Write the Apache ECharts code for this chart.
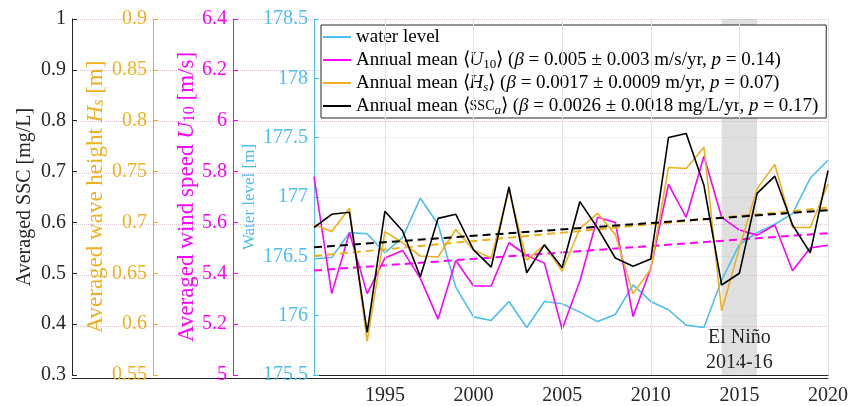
<!DOCTYPE html>
<html><head><meta charset="utf-8">
<script src="https://cdn.jsdelivr.net/npm/echarts@6/dist/echarts.min.js"></script>
<style>html,body{margin:0;padding:0;background:#fff}#c{width:857px;height:406px}</style>
</head><body><div id="c"></div>
<script>
const years = [1991,1992,1993,1994,1995,1996,1997,1998,1999,2000,2001,2002,2003,2004,2005,2006,2007,2008,2009,2010,2011,2012,2013,2014,2015,2016,2017,2018,2019,2020];
const waterLevel = [176.48,176.49,176.70,176.69,176.53,176.66,176.99,176.77,176.24,175.99,175.96,176.12,175.90,176.12,176.10,176.03,175.95,176.01,176.26,176.12,176.05,175.92,175.90,176.30,176.60,176.70,176.77,176.86,177.16,177.31];
const u10 = [5.78,5.32,5.56,5.32,5.46,5.49,5.38,5.22,5.45,5.35,5.35,5.52,5.47,5.44,5.18,5.37,5.62,5.60,5.23,5.42,5.75,5.62,5.86,5.62,5.57,5.55,5.59,5.41,5.50,5.51];
const hs = [0.698,0.691,0.714,0.583,0.691,0.680,0.667,0.666,0.693,0.673,0.665,0.732,0.663,0.678,0.652,0.694,0.709,0.688,0.630,0.654,0.754,0.753,0.774,0.613,0.675,0.733,0.757,0.695,0.695,0.738];
const ssc = [0.590,0.616,0.620,0.384,0.622,0.583,0.493,0.608,0.616,0.546,0.512,0.670,0.501,0.556,0.511,0.641,0.589,0.530,0.514,0.528,0.767,0.775,0.673,0.477,0.500,0.657,0.691,0.595,0.540,0.702];
const trendYears = [1991, 2020];
const u10Trend = [5.411, 5.558];
const hsTrend = [0.667, 0.7145];
const sscTrend = [0.551, 0.624];
const xTicks = [1995, 2000, 2005, 2010, 2015, 2020];
const elNino = [2014, 2016];
const elNinoLabel = 'El Niño\n2014-16';

const FONT = 'Liberation Serif';
const C_WL = '#4DBEEE', C_U = '#FF00FF', C_H = '#EDB120', C_S = '#000000', C_AX = '#262626';

const pairs = (xs, ys) => xs.map((x, i) => [x, ys[i]]);

function yAx(o) {
  const ns = o.nameSize || 22;
  return {
    type: 'value', gridIndex: 0, position: 'left', offset: o.offset,
    min: o.min, max: o.max, interval: o.interval,
    axisLine: {show: true, lineStyle: {color: o.color, width: 1}},
    axisTick: {show: true, inside: true, length: 5, lineStyle: {color: o.color}},
    axisLabel: {color: o.color, fontSize: 20, fontFamily: FONT, margin: 6},
    splitLine: o.split ? {show: true, lineStyle: {type: 'dotted', color: '#e4e4e4'}} : {show: false},
    name: o.name, nameLocation: 'middle', nameRotate: 90, nameGap: o.gap, nameMoveOverlap: false,
    nameTextStyle: {color: o.color, fontSize: ns, fontFamily: FONT,
      rich: {
        i: {fontStyle: 'italic', fontSize: ns, fontFamily: FONT, color: o.color},
        sub: {fontSize: Math.round(ns * 0.7), fontFamily: FONT, color: o.color, verticalAlign: 'bottom'},
        subi: {fontSize: Math.round(ns * 0.7), fontStyle: 'italic', fontFamily: FONT, color: o.color, verticalAlign: 'bottom'}
      }}
  };
}

const legendText = {
  'water level': 'water level',
  'U10': 'Annual mean ⟨{i|U}{sub|10}⟩ ({i|β} = 0.005 ± 0.003 m/s/yr, {i|p} = 0.14)',
  'Hs': 'Annual mean ⟨{i|H}{subi|s}⟩ ({i|β} = 0.0017 ± 0.0009 m/yr, {i|p} = 0.07)',
  'SSC': 'Annual mean ⟨{sc|SSC}{subi|a}⟩ ({i|β} = 0.0026 ± 0.0018 mg/L/yr, {i|p} = 0.17)'
};

const chart = echarts.init(document.getElementById('c'));
chart.setOption({
  animation: false,
  backgroundColor: '#fff',
  grid: [
    {left: 314, right: 29, top: 19, bottom: 28, containLabel: false},
    {left: 72, right: 29, top: 19, bottom: 28, containLabel: false}
  ],
  xAxis: [
    {type: 'value', gridIndex: 0, min: 1991, max: 2020,
     axisLine: {show: true, lineStyle: {color: C_AX}},
     axisTick: {show: true, inside: true, length: 5, customValues: xTicks, lineStyle: {color: C_AX}},
     axisLabel: {customValues: xTicks, fontSize: 20, fontFamily: FONT, color: C_AX, margin: 11, formatter: v => String(v)},
     splitLine: {show: false}},
    {type: 'value', gridIndex: 1, min: 0, max: 1,
     axisLine: {show: true, lineStyle: {color: C_AX}},
     axisTick: {show: false}, axisLabel: {show: false}, splitLine: {show: false}}
  ],
  yAxis: [
    yAx({offset: 242, min: 0.3, max: 1, interval: 0.1, color: C_AX, name: 'Averaged SSC [mg/L]', gap: 37, nameSize: 20}),
    yAx({offset: 161, min: 0.55, max: 0.9, interval: 0.05, color: C_H, name: 'Averaged wave height {i|H}{subi|s} [m]', gap: 46, nameSize: 23}),
    yAx({offset: 81, min: 5, max: 6.4, interval: 0.2, color: C_U, name: 'Averaged wind speed {i|U}{sub|10} [m/s]', gap: 35, nameSize: 23}),
    yAx({offset: 0, min: 175.5, max: 178.5, interval: 0.5, color: C_WL, name: 'Water level [m]', gap: 56, nameSize: 17, split: true}),
    {type: 'value', gridIndex: 1, min: 0.3, max: 1, interval: 0.1,
     axisLine: {show: false}, axisTick: {show: false}, axisLabel: {show: false},
     splitLine: {show: true, lineStyle: {type: 'dotted', color: '#dcc6d8'}}}
  ],
  legend: {
    orient: 'vertical', left: 321, top: 25, itemWidth: 28, itemHeight: 2, itemGap: 1,
    icon: 'rect',
    padding: [1, 8, 1, 2], borderColor: C_AX, borderWidth: 1, backgroundColor: '#fff',
    data: ['water level', 'U10', 'Hs', 'SSC'],
    formatter: n => legendText[n],
    textStyle: {fontFamily: FONT, fontSize: 19, color: '#000', lineHeight: 22,
      rich: {
        i: {fontStyle: 'italic', fontFamily: FONT, fontSize: 19, color: '#000', lineHeight: 22},
        sub: {fontFamily: FONT, fontSize: 13, color: '#000', verticalAlign: 'bottom', lineHeight: 22},
        subi: {fontFamily: FONT, fontSize: 13, fontStyle: 'italic', color: '#000', verticalAlign: 'bottom', lineHeight: 22},
        sc: {fontFamily: FONT, fontSize: 14, color: '#000', lineHeight: 22}
      }}
  },
  series: [
    {type: 'line', name: 'bg', xAxisIndex: 0, yAxisIndex: 0, data: [], z: 1, silent: true,
     markArea: {silent: true, itemStyle: {color: 'rgba(185,185,185,0.45)'},
       label: {show: true, position: 'insideBottom', formatter: elNinoLabel, fontSize: 20, fontFamily: FONT, color: C_AX, lineHeight: 25, distance: 0},
       data: [[{xAxis: elNino[0]}, {xAxis: elNino[1]}]]},
     markLine: {silent: true, symbol: 'none', label: {show: false},
       lineStyle: {color: '#e2e2e2', type: 'solid', width: 1},
       data: xTicks.map(v => ({xAxis: v}))}},
    {type: 'line', name: 'water level', xAxisIndex: 0, yAxisIndex: 3, data: pairs(years, waterLevel),
     symbol: 'none', lineStyle: {color: C_WL, width: 1.6}, itemStyle: {color: C_WL}, z: 3},
    {type: 'line', name: 'U10', xAxisIndex: 0, yAxisIndex: 2, data: pairs(years, u10),
     symbol: 'none', lineStyle: {color: C_U, width: 1.6}, itemStyle: {color: C_U}, z: 4},
    {type: 'line', name: 'Hs', xAxisIndex: 0, yAxisIndex: 1, data: pairs(years, hs),
     symbol: 'none', lineStyle: {color: C_H, width: 1.6}, itemStyle: {color: C_H}, z: 5},
    {type: 'line', name: 'SSC', xAxisIndex: 0, yAxisIndex: 0, data: pairs(years, ssc),
     symbol: 'none', lineStyle: {color: C_S, width: 1.6}, itemStyle: {color: C_S}, z: 6},
    {type: 'line', name: 'U10 trend', xAxisIndex: 0, yAxisIndex: 2, data: pairs(trendYears, u10Trend),
     symbol: 'none', lineStyle: {color: C_U, width: 2, type: [8, 5]}, z: 4},
    {type: 'line', name: 'Hs trend', xAxisIndex: 0, yAxisIndex: 1, data: pairs(trendYears, hsTrend),
     symbol: 'none', lineStyle: {color: C_H, width: 2, type: [8, 5]}, z: 5},
    {type: 'line', name: 'SSC trend', xAxisIndex: 0, yAxisIndex: 0, data: pairs(trendYears, sscTrend),
     symbol: 'none', lineStyle: {color: C_S, width: 2, type: [8, 5]}, z: 6}
  ]
});
</script></body></html>
